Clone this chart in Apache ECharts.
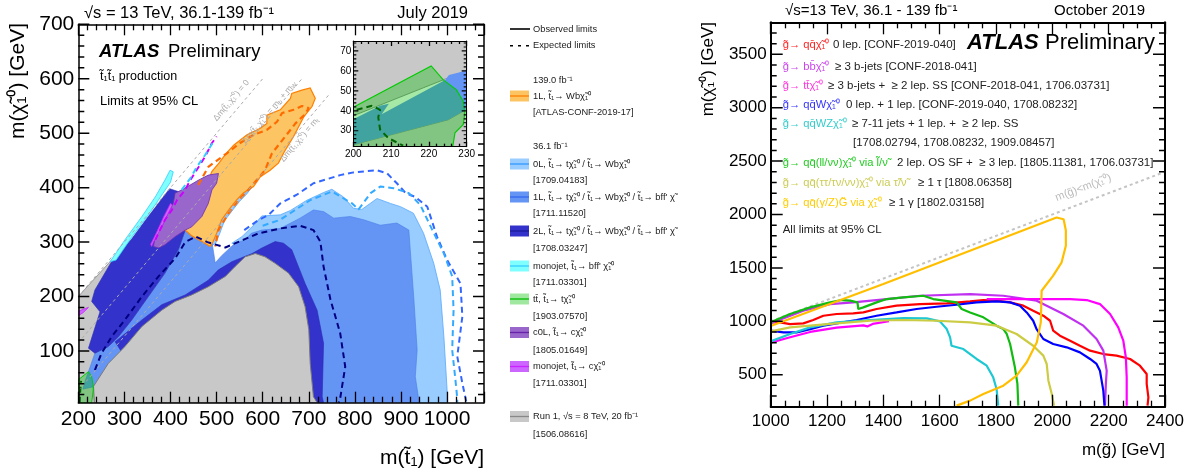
<!DOCTYPE html>
<html><head><meta charset="utf-8">
<script src="https://cdn.jsdelivr.net/npm/echarts@6/dist/echarts.min.js"></script>
<style>html,body{margin:0;padding:0;background:#fff}#c{width:1203px;height:474px}</style>
</head><body><div id="c"></div>
<script>
const FONT = 'Liberation Sans, Arial, Helvetica, sans-serif';
// ---------- Left plot: stop exclusion regions, [m(stop), m(LSP)] in GeV ----------
const run1Diag = [[200,5],[200,200],[272,267],[282,275],[300,250],[260,150],[230,60],[232,34],[235,5]];
const run1Mound = [[235,5],[233,35],[265,77],[301,108],[338,145],[381,175],[410,191],[446,203],[482,218],[519,237],[540,255],[562,273],[584,279],[605,273],[627,261],[656,243],[678,218],[692,181],[700,139],[703,77],[710,16],[718,5]];
const zeroLBody = [[533,298],[555,310],[584,334],[598,348],[638,350],[660,358],[696,377],[732,391],[750,397],[775,383],[797,362],[815,360],[848,380],[877,371],[899,365],[927,353],[949,316],[971,261],[985,212],[993,126],[1000,28],[1000,5],[900,5],[560,290]];
const zeroLStrip = [[576,400],[565,388],[550,375],[535,359],[517,339],[506,314],[498,298],[486,292],[470,300],[480,330],[510,360],[545,390]];
const oneL = [[210,30],[215,45],[236,96],[265,108],[287,126],[316,157],[352,200],[388,243],[417,286],[432,322],[445,338],[470,342],[490,300],[497,262],[512,276],[540,298],[562,304],[575,316],[598,322],[638,325],[681,344],[710,359],[732,356],[754,344],[790,347],[819,341],[855,331],[891,335],[917,322],[920,286],[928,194],[935,102],[931,53],[938,13],[939,5],[600,5],[290,85],[232,34]];
const twoLBand = [[280,117],[338,157],[381,185],[432,203],[482,230],[504,249],[533,264],[577,279],[598,289],[627,301],[645,298],[663,286],[692,224],[718,175],[732,114],[729,16],[732,5],[500,5],[300,90]];
const twoLLeft = [[222,105],[247,172],[229,191],[236,212],[272,264],[316,306],[350,345],[380,378],[398,398],[420,392],[432,341],[432,322],[417,286],[388,243],[352,200],[316,157],[287,126],[265,108],[236,96]];
const monoBff = [[269,264],[301,304],[338,347],[367,383],[388,414],[399,432],[406,429],[400,410],[380,385],[352,350],[315,308],[282,267]];
const oneL139 = [[703,583],[714,564],[707,549],[689,530],[667,494],[649,469],[634,445],[616,432],[595,420],[580,402],[558,390],[543,377],[528,361],[511,341],[500,316],[492,300],[486,292],[470,300],[445,312],[432,322],[445,340],[460,370],[475,400],[490,430],[505,445],[520,462],[537,478],[566,497],[595,509],[609,518],[609,533],[638,543],[660,564],[663,573],[685,579]];
const c0L = [[363,292],[367,310],[381,328],[395,353],[406,371],[410,390],[425,396],[461,414],[482,423],[504,426],[500,408],[490,396],[482,371],[468,347],[446,328],[432,322],[410,310],[388,295],[374,289]];
const monoC = [[359,292],[363,300],[381,328],[395,353],[404,368],[400,371],[385,346],[370,318],[357,296]];
const monoCEdge = [[200,165],[200,173],[215,178],[222,180],[210,170]];
const ttbarMain = [[200,5],[200,47],[222,62],[229,53],[233,32],[229,5]];
// expected limits (dashed)
const exp139 = [[460,405],[482,438],[493,445],[522,463],[551,482],[580,497],[609,506],[631,521],[642,537],[667,543],[685,550],[700,546],[692,535],[671,518],[649,494],[620,463],[605,432],[587,414],[569,396],[548,377],[526,353],[504,322],[497,292]];
const exp2L = [[236,65],[250,95],[272,126],[301,157],[338,200],[374,237],[410,270],[432,300],[455,310],[480,300],[519,290],[560,305],[591,316],[638,325],[681,330],[710,322],[725,301],[732,255],[747,194],[768,133],[779,71],[768,13],[765,5]];
const exp1L = [[560,322],[590,340],[613,350],[638,371],[674,387],[710,408],[768,423],[797,428],[848,432],[870,426],[891,408],[910,390],[931,383],[957,365],[978,310],[1000,267],[1029,224],[1033,163],[1022,90],[1033,41],[1040,13],[1042,5]];
const exp0L = [[600,330],[638,341],[703,377],[750,393],[794,371],[808,360],[834,390],[855,402],[884,399],[917,390],[942,368],[968,322],[993,279],[1011,237],[1014,175],[1011,102],[1018,47],[1022,13],[1022,5]];
const expMonoC = [[367,304],[377,322],[388,341],[403,359],[414,377],[432,396],[443,414],[461,438],[475,457],[490,482],[500,494]];
const expMonoBff = [[424,396],[443,417],[457,438],[475,460],[493,484]];
const expTtbarMain = [[203,5],[204,25],[206,45]];
const diag0 = [[200,200],[600,600]];
const diagWb = [[200,115],[685,600]];
const diagTop = [[200,27],[745,572]];
// inset (zoom of m(stop) 200-230)
const inGreyTop = [[200,37.5],[230,60.2],[230,75],[200,75]];
const inGreyBot = [[200,22],[200,23],[225.1,35.5],[230,40.8],[230,22]];
const in1L = [[200,23],[200,35.8],[207.1,42.5],[209.4,43.5],[207.5,38.3],[224.3,55.5],[225.3,58],[230,60.2],[230,40.8],[225.1,35.5]];
const inTtbar = [[200,22],[200,41.8],[220.6,62.5],[223.8,55.5],[227.3,50.5],[229.1,44.7],[229.5,39],[229.1,33.2],[226.9,29],[226.3,22]];
const inTtbarExp = [[200.9,40.5],[204.9,42.5],[207.1,40.5],[206.6,36.8],[207.1,30.5],[209.3,26.3],[213.2,22.5]];
// ---------- Right plot: gluino exclusion contours, [m(gluino), m(LSP)] ----------
const gQQ = [[1000,990],[1033,990],[1069,974],[1116,980],[1151,1012],[1187,1052],[1234,1068],[1293,1074],[1329,1083],[1376,1115],[1447,1146],[1530,1161],[1625,1168],[1708,1186],[1755,1199],[1802,1193],[1850,1177],[1897,1146],[1932,1099],[1968,1052],[1992,1005],[2003,912],[2027,865],[2063,818],[2098,771],[2134,725],[2181,693],[2228,678],[2276,647],[2311,584],[2335,506],[2335,413],[2341,288],[2338,210]];
const gBB = [[1000,981],[1116,1099],[1211,1161],[1293,1177],[1412,1208],[1530,1239],[1708,1255],[1826,1239],[1944,1193],[2039,1068],[2110,959],[2157,834],[2181,725],[2193,537],[2190,413],[2187,210]];
const gTTlow = [[1000,800],[1069,850],[1140,900],[1234,940],[1329,962],[1343,952],[1362,975],[1420,1000]];
const gTTup = [[1767,1208],[1814,1208],[1944,1208],[2063,1208],[2122,1199],[2169,1161],[2205,1068],[2234,943],[2252,818],[2261,662],[2264,475],[2264,210]];
const gQQW = [[1000,912],[1045,896],[1092,896],[1140,927],[1187,959],[1234,980],[1305,1012],[1376,1052],[1447,1083],[1518,1115],[1589,1136],[1660,1155],[1731,1177],[1802,1186],[1850,1177],[1885,1146],[1909,1083],[1932,1005],[1944,927],[1968,834],[2003,787],[2051,756],[2098,709],[2134,647],[2157,600],[2169,537],[2175,444],[2181,350],[2185,210]];
const gQQWZ = [[1000,812],[1069,881],[1140,943],[1234,990],[1353,1012],[1471,1030],[1554,1027],[1601,999],[1625,927],[1637,849],[1642,771],[1684,740],[1731,647],[1767,584],[1790,475],[1802,366],[1808,210]];
const gSlep = [[1000,990],[1069,1068],[1140,1130],[1211,1177],[1252,1199],[1282,1193],[1308,1177],[1311,1115],[1329,1130],[1376,1177],[1412,1208],[1471,1224],[1542,1239],[1577,1208],[1660,1177],[1678,1115],[1708,1083],[1755,1037],[1802,959],[1826,927],[1838,881],[1850,787],[1867,569],[1876,413],[1879,210]];
const gStau = [[1000,906],[1069,943],[1140,959],[1234,980],[1353,1005],[1471,1012],[1589,1005],[1708,990],[1802,959],[1873,881],[1932,771],[1968,678],[1980,600],[1986,444],[1998,319],[2006,210]];
const gGMSB = [[1000,955],[1400,1350],[2015,1972],[2040,1955],[2048,1850],[2048,1707],[2033,1552],[2003,1427],[1962,1286],[1959,990],[1945,803],[1909,616],[1873,491],[1826,397],[1755,319],[1708,257],[1660,210]];
const gDiag = [[1000,1000],[2400,2400]];
// ---------- tick labels ----------
const L_X_LABELS = [200,300,400,500,600,700,800,900,1000];
const L_Y_LABELS = [100,200,300,400,500,600,700];
const R_X_LABELS = [1000,1200,1400,1600,1800,2000,2200,2400];
const R_Y_LABELS = [500,1000,1500,2000,2500,3000,3500];
const IN_X_LABELS = [200,210,220,230];
const IN_Y_LABELS = [30,40,50,60,70];

function steps(a, b, s, skip) { const o = []; for (let v = a; v <= b + 1e-9; v += s) { if (!skip || Math.abs(v / skip - Math.round(v / skip)) > 1e-6) o.push(+v.toFixed(4)); } return o; }

// x axes: native inside ticks (min is a multiple of the interval); y axes: labels only, ticks drawn below
function mkXAxes(gridIndex, min, max, interval, minorSplit, labels, fontSize, margin, lineW, majLen, minLen) {
  return ['bottom', 'top'].map((p, k) => ({
    type: 'value', gridIndex, min, max, interval, position: p, z: 10, splitLine: { show: false }, splitArea: { show: false },
    axisLine: { show: true, onZero: false, lineStyle: { color: '#000', width: lineW } },
    axisTick: { show: true, inside: true, length: majLen, lineStyle: { color: '#000', width: 1.3 } },
    minorTick: { show: true, splitNumber: minorSplit, length: minLen, lineStyle: { color: '#000', width: 1.3 } },
    axisLabel: k === 0 ? { show: true, fontSize, fontFamily: FONT, color: '#000', margin, showMinLabel: true, showMaxLabel: labels[labels.length - 1] === max,
      formatter: v => (labels.indexOf(v) >= 0 ? String(v) : '') } : { show: false }
  }));
}
function mkYAxes(gridIndex, min, max, labels, fontSize, margin, lineW) {
  return ['left', 'right'].map((p, k) => ({
    type: 'value', gridIndex, min, max, position: p, z: 10, splitLine: { show: false }, splitArea: { show: false },
    axisLine: { show: true, onZero: false, lineStyle: { color: '#000', width: lineW } },
    axisTick: { show: false },
    axisLabel: k === 0 ? { show: true, customValues: labels, fontSize, fontFamily: FONT, color: '#000', margin, showMinLabel: true, showMaxLabel: true, formatter: v => String(v) } : { show: false }
  }));
}
const xAxes = [].concat(
  mkXAxes(0, 200, 1080, 100, 5, L_X_LABELS, 21, 6, 1.5, 11, 6),
  mkXAxes(1, 1000, 2400, 200, 4, R_X_LABELS, 17, 6, 2, 12, 6),
  mkXAxes(2, 200, 230, 10, 5, IN_X_LABELS, 10, 3, 1, 5, 3)
);
const yAxes = [].concat(
  mkYAxes(0, 5, 700, L_Y_LABELS, 21, 4, 1.5),
  mkYAxes(1, 200, 3800, R_Y_LABELS, 17, 4, 2),
  mkYAxes(2, 22, 75, IN_Y_LABELS, 10, 2, 1)
);

function area(name, polys, fill, stroke, lw, ax) {
  return {
    type: 'custom', name, xAxisIndex: ax, yAxisIndex: ax, clip: true, silent: true, z: 2,
    data: [polys[0][0]],
    renderItem: function (params, api) {
      return { type: 'group', children: polys.map(p => ({
        type: 'polygon', shape: { points: p.map(pt => api.coord(pt)) },
        style: { fill: fill, stroke: stroke || 'none', lineWidth: lw || 0 }
      })) };
    }
  };
}
function line(name, data, color, width, dash, ax) {
  return { type: 'line', name, data, xAxisIndex: ax, yAxisIndex: ax, symbol: 'none', showSymbol: false,
    silent: true, clip: true, z: 3, lineStyle: { color, width, type: dash || 'solid', cap: 'butt' } };
}
const L = 0, R = 2, IN = 4;
const DASH = [6, 4];
const series = [
  area('Run1 diag', [run1Diag], '#c8c8c8', '#8a8a8a', 0.8, L),
  area('0L', [zeroLBody, zeroLStrip], '#99ccff', '#55aaff', 0.8, L),
  area('1L', [oneL], '#6495f5', '#4a7de8', 0.6, L),
  area('2L', [twoLBand, twoLLeft], '#3333cc', '#2a2ab0', 0.6, L),
  area('Run1', [run1Mound], '#c8c8c8', '#7a7a7a', 1, L),
  area('monojet bff', [monoBff], '#80ffff', '#33ccff', 0.8, L),
  area('1L 139', [oneL139], '#fcc462', '#ff7f00', 1.2, L),
  area('c0L', [c0L], '#9966cc', '#6a30b0', 0.8, L),
  area('monojet c', [monoC, monoCEdge], '#cc66ff', '#cc22ff', 0.8, L),
  area('ttbar', [ttbarMain], 'rgba(0,190,0,0.35)', '#00cc00', 1, L),
  line('exp 1L 139', exp139, '#ff6a00', 2.2, DASH, L),
  line('exp 2L', exp2L, '#000080', 2, DASH, L),
  line('exp 1L', exp1L, '#3366ff', 2, DASH, L),
  line('exp 0L', exp0L, '#33aaff', 2, DASH, L),
  line('exp monojet c', expMonoC, '#cc00ff', 2, DASH, L),
  line('exp monojet bff', expMonoBff, '#33ccff', 2, DASH, L),
  line('exp ttbar', expTtbarMain, '#006600', 2, DASH, L),
  line('dm0', diag0, '#aaaaaa', 1, [3, 3], L),
  line('dmWb', diagWb, '#aaaaaa', 1, [3, 3], L),
  line('dmt', diagTop, '#aaaaaa', 1, [3, 3], L),
  area('in grey', [inGreyTop, inGreyBot], '#c8c8c8', '#777', 0.8, IN),
  area('in 1L', [in1L], '#6495f5', null, 0, IN),
  area('in ttbar', [inTtbar], 'rgba(0,190,0,0.35)', '#00cc00', 1.2, IN),
  line('in ttbar exp', inTtbarExp, '#006600', 2, DASH, IN),
  line('diag', gDiag, '#c4c4c4', 2, [3, 3], R),
  line('qq', gQQ, '#ff0000', 2.2, null, R),
  line('bb', gBB, '#c030f0', 2.2, null, R),
  line('tt low', gTTlow, '#ff00ff', 2.2, null, R),
  line('tt up', gTTup, '#ff00ff', 2.2, null, R),
  line('qqW', gQQW, '#0000ff', 2.2, null, R),
  line('qqWZ', gQQWZ, '#1ec8d2', 2.2, null, R),
  line('slep', gSlep, '#11bb11', 2.2, null, R),
  line('stau', gStau, '#cccc44', 2.2, null, R),
  line('gmsb', gGMSB, '#ffbf00', 2.2, null, R)
];

const chart = echarts.init(document.getElementById('c'), null, { renderer: 'canvas' });
chart.setOption({
  animation: false,
  backgroundColor: '#fff',
  grid: [
    { left: 78.3, top: 24.3, width: 405.7, height: 378.4, show: false },
    { left: 770.7, top: 22.3, width: 394.3, height: 384.4, show: false },
    { left: 353.3, top: 41, width: 113.4, height: 105.7, show: true, backgroundColor: '#fff', borderWidth: 0 }
  ],
  xAxis: xAxes, yAxis: yAxes, series
});

// ---------- inward y-axis ticks (left and right sides) as line series broken by empty values ----------
function yTickSeries(name, gi, ax, xr, yMaj, yMin, majLen, minLen, lw) {
  const p0 = chart.convertToPixel({ gridIndex: gi }, [xr[0], yMaj[0]]);
  const p1 = chart.convertToPixel({ gridIndex: gi }, [xr[1], yMaj[0]]);
  const ux = (xr[1] - xr[0]) / (p1[0] - p0[0]);
  const d = [];
  [[yMaj, majLen], [yMin, minLen]].forEach(([vals, len]) => vals.forEach(v => {
    d.push([xr[0], v], [xr[0] + len * ux, v], ['-', v], [xr[1], v], [xr[1] - len * ux, v], ['-', v]);
  }));
  return { type: 'line', name, data: d, xAxisIndex: ax, yAxisIndex: ax, symbol: 'none', showSymbol: false, connectNulls: false,
    silent: true, clip: false, z: 20, lineStyle: { color: '#000', width: lw, cap: 'butt' } };
}
const allSeries = series.concat([
  yTickSeries('yticks left', 0, L, [200, 1080], L_Y_LABELS, steps(20, 680, 20, 100), 11, 6, 1.5),
  yTickSeries('yticks right', 1, R, [1000, 2400], R_Y_LABELS, steps(300, 3700, 100, 500), 12, 6, 1.5),
  yTickSeries('yticks inset', 2, IN, [200, 230], IN_Y_LABELS, steps(24, 74, 2, 10), 5, 3, 1.2)
]);

const g = [];
// ---------- text ----------
const T1 = 't\u0303\u2081', CHI = '\u03c7\u0303\u2081\u2070', G = 'g\u0303', QQ = 'qq\u0304', AR = '\u2192', GE = '\u2265';
function txt(x, y, text, st, el) {
  return Object.assign({ type: 'text', x, y, silent: true, z: 100,
    style: Object.assign({ text, fill: '#000', fontFamily: FONT, fontSize: 12, align: 'left', verticalAlign: 'middle', textAlign: 'left', textVerticalAlign: 'middle' }, st || {}) }, el || {});
}
g.push(txt(84, 13, '\u221as = 13 TeV, 36.1-139 fb\u207b\u00b9', { fontSize: 16.5 }));
g.push(txt(468, 13, 'July 2019', { fontSize: 16.5, align: 'right', textAlign: 'right' }));
g.push(txt(99, 52, 'ATLAS', { fontSize: 18.5, fontWeight: 'bold', fontStyle: 'italic' }));
g.push(txt(168, 52, 'Preliminary', { fontSize: 18.5 }));
g.push(txt(100, 77, T1 + T1 + ' production', { fontSize: 12.5 }));
g.push(txt(100, 101, 'Limits at 95% CL', { fontSize: 13 }));
g.push(txt(18, 23, 'm(' + CHI + ') [GeV]', { fontSize: 21, align: 'right', textAlign: 'right' }, { rotation: Math.PI / 2 }));
g.push(txt(484, 458, 'm(' + T1 + ') [GeV]', { fontSize: 21, align: 'right', textAlign: 'right' }));
const legTexts = [
  [29, 'Observed limits'], [45.7, 'Expected limits'], [80, '139.0 fb\u207b\u00b9'],
  [96, '1L, ' + T1 + AR + ' Wb' + CHI], [112.7, '[ATLAS-CONF-2019-17]'], [146.7, '36.1 fb\u207b\u00b9'],
  [164, '0L, ' + T1 + AR + ' t' + CHI + ' / ' + T1 + AR + ' Wb' + CHI], [180, '[1709.04183]'],
  [197, '1L, ' + T1 + AR + ' t' + CHI + ' / ' + T1 + AR + ' Wb' + CHI + ' / ' + T1 + AR + " bff' \u03c7\u0303"], [213.3, '[1711.11520]'],
  [231, '2L, ' + T1 + AR + ' t' + CHI + ' / ' + T1 + AR + ' Wb' + CHI + ' / ' + T1 + AR + " bff' \u03c7\u0303"], [248.3, '[1708.03247]'],
  [266, 'monojet, ' + T1 + AR + " bff' " + CHI], [282.7, '[1711.03301]'],
  [299, 'tt\u0304, ' + T1 + AR + ' t' + CHI], [316, '[1903.07570]'],
  [332.5, 'c0L, ' + T1 + AR + ' c' + CHI], [350, '[1805.01649]'],
  [366.5, 'monojet, ' + T1 + AR + ' c' + CHI], [383.3, '[1711.03301]'],
  [416.5, 'Run 1, \u221as = 8 TeV, 20 fb\u207b\u00b9'], [434.3, '[1506.08616]']
];
legTexts.forEach(t => g.push(txt(533, t[0], t[1], { fontSize: 9.3, fill: '#222' })));
const legBoxes = [[96, '#fcc462', '#ff7f00'], [164, '#99ccff', '#3399ff'], [197, '#6495f5', '#3366ee'], [231, '#3333cc', '#1a1a99'],
  [266, '#80ffff', '#33ccff'], [299, '#a0e8a0', '#00bb00'], [332.5, '#9966cc', '#6622aa'], [366.5, '#cc66ff', '#cc22ff'], [416.5, '#c8c8c8', '#888888']];
legBoxes.forEach(b => {
  g.push({ type: 'rect', silent: true, z: 100, shape: { x: 510, y: b[0] - 5.5, width: 19, height: 11 }, style: { fill: b[1] } });
  g.push({ type: 'line', silent: true, z: 101, shape: { x1: 510, y1: b[0], x2: 529, y2: b[0] }, style: { stroke: b[2], lineWidth: 1.3 } });
});
g.push({ type: 'line', silent: true, z: 101, shape: { x1: 510, y1: 29, x2: 530, y2: 29 }, style: { stroke: '#000', lineWidth: 1.6 } });
g.push({ type: 'line', silent: true, z: 101, shape: { x1: 510, y1: 45.7, x2: 530, y2: 45.7 }, style: { stroke: '#000', lineWidth: 1.6, lineDash: [3, 5] } });
g.push(txt(785, 11, '\u221as=13 TeV, 36.1 - 139 fb\u207b\u00b9', { fontSize: 15 }));
g.push(txt(1145, 11, 'October 2019', { fontSize: 15, align: 'right', textAlign: 'right' }));
g.push(txt(967, 43, 'ATLAS', { fontSize: 22, fontWeight: 'bold', fontStyle: 'italic' }));
g.push(txt(1045, 43, 'Preliminary', { fontSize: 22 }));
g.push(txt(708, 22, 'm(' + CHI + ') [GeV]', { fontSize: 17, align: 'right', textAlign: 'right' }, { rotation: Math.PI / 2 }));
g.push(txt(1165, 450, 'm(' + G + ') [GeV]', { fontSize: 17, align: 'right', textAlign: 'right' }));
const rRows = [
  [45, '#ff2222', G + AR + ' ' + QQ + CHI, 833, '0 lep. [CONF-2019-040]'],
  [66.7, '#cc44ee', G + AR + ' bb\u0304' + CHI, 835, GE + ' 3 b-jets [CONF-2018-041]'],
  [86, '#ff33dd', G + AR + ' tt\u0304' + CHI, 828, GE + ' 3 b-jets +  ' + GE + ' 2 lep. SS [CONF-2018-041, 1706.03731]'],
  [105, '#3333ff', G + AR + ' ' + QQ + 'W' + CHI, 846, '0 lep. + 1 lep. [CONF-2019-040, 1708.08232]'],
  [124, '#33cccc', G + AR + ' ' + QQ + 'WZ' + CHI, 852, GE + ' 7-11 jets + 1 lep. +  ' + GE + ' 2 lep. SS'],
  [143.3, '#000', '', 853, '[1708.02794, 1708.08232, 1909.08457]'],
  [163.3, '#22cc22', G + AR + ' ' + QQ + '(ll/\u03bd\u03bd)' + CHI + ' via l\u0303/\u03bd\u0303', 897, '2 lep. OS SF +  ' + GE + ' 3 lep. [1805.11381, 1706.03731]'],
  [183.3, '#cccc55', G + AR + ' ' + QQ + '(\u03c4\u03c4/\u03c4\u03bd/\u03bd\u03bd)' + CHI + ' via \u03c4\u0303/\u03bd\u0303', 918, GE + ' 1 \u03c4 [1808.06358]'],
  [203.3, '#ffcc00', G + AR + ' ' + QQ + '(\u03b3/Z)G\u0303 via ' + CHI, 889, GE + ' 1 \u03b3 [1802.03158]']
];
rRows.forEach(r => {
  if (r[2]) g.push(txt(782.7, r[0], r[2], { fontSize: 11.2, fill: r[1] }));
  g.push(txt(r[3], r[0], r[4], { fontSize: 11.5, fill: '#222' }));
});
g.push(txt(782.7, 230, 'All limits at 95% CL', { fontSize: 11.5, fill: '#222' }));

const pa = chart.convertToPixel({ gridIndex: 0 }, [300, 300]);
const pb = chart.convertToPixel({ gridIndex: 0 }, [600, 600]);
const angL = Math.atan2(pa[1] - pb[1], pb[0] - pa[0]);
const dmLabels = [
  [[532, 560], '{a|\u0394m(' + T1 + ',' + CHI + ') = 0}'],
  [[614, 538], '{a|\u0394m(' + T1 + ',' + CHI + ') = m}{s|b}{a| + m}{s|W}'],
  [[680, 488], '{a|\u0394m(' + T1 + ',' + CHI + ') = m}{s|t}']
];
const rich = { a: { fontSize: 8.5, fill: '#aaaaaa', fontFamily: FONT }, s: { fontSize: 6, fill: '#aaaaaa', fontFamily: FONT, padding: [4, 0, 0, 0] } };
dmLabels.forEach(d => {
  const p = chart.convertToPixel({ gridIndex: 0 }, d[0]);
  g.push({ type: 'text', x: p[0], y: p[1], rotation: angL, silent: true, z: 90,
    style: { text: d[1], rich, align: 'center', textAlign: 'center', verticalAlign: 'middle', textVerticalAlign: 'middle', fill: '#aaaaaa' } });
});
const qa = chart.convertToPixel({ gridIndex: 1 }, [1200, 1200]);
const qb = chart.convertToPixel({ gridIndex: 1 }, [2200, 2200]);
const angR = Math.atan2(qa[1] - qb[1], qb[0] - qa[0]);
const qp = chart.convertToPixel({ gridIndex: 1 }, [2110, 2250]);
g.push(txt(qp[0], qp[1], 'm(' + G + ')<m(' + CHI + ')', { fontSize: 11, fill: '#bbbbbb', align: 'center', textAlign: 'center' }, { rotation: angR }));

chart.setOption({ series: allSeries, graphic: { elements: g } });
</script>
</body></html>
